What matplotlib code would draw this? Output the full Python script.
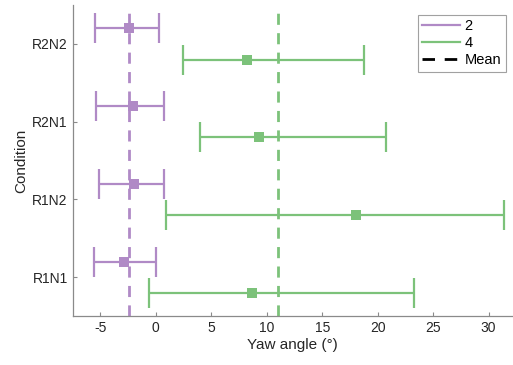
import matplotlib
matplotlib.use("Agg")
import matplotlib.pyplot as plt
from matplotlib.lines import Line2D
import numpy as np

plt.rcParams['font.family'] = ['Liberation Sans', 'DejaVu Sans']
plt.rcParams['axes.unicode_minus'] = False

conditions = ["R1N1", "R1N2", "R2N1", "R2N2"]
# series "2" (purple)
s2_mean = [-2.91, -2.01, -2.07, -2.43]
s2_low = [-5.55, -5.17, -5.37, -5.52]
s2_high = [0.0, 0.69, 0.75, 0.30]
# series "4" (green)
s4_mean = [8.71, 18.05, 9.31, 8.20]
s4_low = [-0.6, 0.9, 3.96, 2.43]
s4_high = [23.27, 31.35, 20.75, 18.77]
mean2 = -2.4
mean4 = 11.05

purple = '#b08ac6'
green = '#7cc27a'

fig = plt.figure(figsize=(5.13, 3.65), dpi=100)
ax = fig.add_axes([0.1417, 0.134, 0.856, 0.852])

y = np.arange(1, len(conditions) + 1)
off = 0.2

def draw(vals, lo, hi, yy, c):
    vals = np.array(vals); lo = np.array(lo); hi = np.array(hi)
    xerr = np.vstack([vals - lo, hi - vals])
    ax.errorbar(vals, yy, xerr=xerr, fmt='none', ecolor=c,
                elinewidth=1.6, capsize=11, capthick=1.6, zorder=3)
    ax.plot(vals, yy, 's', color=c, markersize=7, markeredgewidth=0, zorder=4)

draw(s2_mean, s2_low, s2_high, y + off, purple)
draw(s4_mean, s4_low, s4_high, y - off, green)

dash = (0, (4, 3))
ax.plot([mean2, mean2], [0.5, 4.4], color=purple, lw=2, ls=dash, zorder=2)
ax.plot([mean4, mean4], [0.5, 4.4], color=green, lw=2, ls=dash, zorder=2)

ax.set_xlim(-7.5, 32.1)
ax.set_ylim(0.5, 4.5)
ax.set_yticks(y)
ax.set_yticklabels(conditions)
ax.set_xticks(np.arange(-5, 31, 5))
for s in ['top', 'right']:
    ax.spines[s].set_visible(False)
for s in ['left', 'bottom']:
    ax.spines[s].set_color('#8a8a8a')
    ax.spines[s].set_linewidth(0.9)
ax.tick_params(direction='in', length=3, color='#8a8a8a', labelsize=10,
               labelcolor='#262626', width=0.8)
ax.set_xlabel('Yaw angle (°)', fontsize=11, color='#262626', labelpad=2)
ax.set_ylabel('Condition', fontsize=11, color='#262626', labelpad=3)

handles = [Line2D([], [], color=purple, lw=1.6),
           Line2D([], [], color=green, lw=1.6),
           Line2D([], [], color='black', lw=2, ls=(0, (4.5, 3.5)))]
leg = ax.legend(handles, ['2', '4', 'Mean'], loc='upper right',
                bbox_to_anchor=(0.986, 0.968), fontsize=10.5, frameon=True,
                fancybox=False, edgecolor='#8a8a8a', handlelength=2.6,
                handletextpad=0.3, borderpad=0.3, labelspacing=0.2,
                borderaxespad=0)
leg.get_frame().set_linewidth(0.8)

fig.savefig('out.png', dpi=100)
